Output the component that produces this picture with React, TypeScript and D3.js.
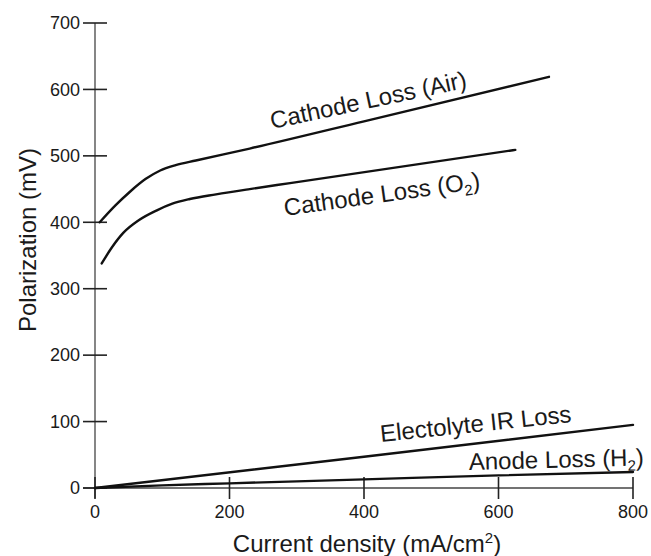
import React from "react";
import * as d3 from "d3";

const xTicks = [0, 200, 400, 600, 800];
const yTicks = [0, 100, 200, 300, 400, 500, 600, 700];

const airX = [7, 30, 52, 75, 97, 120, 150, 230, 400, 675];
const airY = [400, 425, 446, 465, 478, 486, 493, 511, 552, 619];

const o2X = [10, 25, 42, 65, 92, 115, 141, 180, 230, 290, 625];
const o2Y = [338, 362, 384, 403, 418, 428, 435, 442, 450, 459, 509];

const irX = [0, 400, 800];
const irY = [0, 47, 95];

const anodeX = [0, 100, 200, 400, 600, 800];
const anodeY = [0, 4, 7, 13, 19, 24];

const W = 651;
const H = 556;
const FONT = "'Liberation Sans', Arial, Helvetica, sans-serif";
const TXT = "#1a1a1a";

export default function App() {
  const x = d3.scaleLinear().domain([0, 800]).range([95, 633]);
  const y = d3.scaleLinear().domain([0, 700]).range([488, 23]);

  const line = d3
    .line<[number, number]>()
    .x((d) => x(d[0]))
    .y((d) => y(d[1]))
    .curve(d3.curveMonotoneX);

  const zip = (a: number[], b: number[]) => a.map((v, i) => [v, b[i]] as [number, number]);

  const series = [zip(airX, airY), zip(o2X, o2Y), zip(irX, irY), zip(anodeX, anodeY)];

  const x0 = x(0);
  const y0 = y(0);

  return (
    <div style={{ position: "fixed", left: 0, top: 0 }}>
      <svg width={W} height={H} style={{ display: "block", background: "#fff" }} fontFamily={FONT}>
        {/* axes */}
        <line x1={x0} x2={x0} y1={y(700)} y2={y0 + 10} stroke="#444" strokeWidth={1.3} />
        <line x1={x0 - 12} x2={x(800)} y1={y0} y2={y0} stroke="#444" strokeWidth={1.3} />
        {yTicks.map((t) => (
          <g key={"y" + t}>
            <line x1={x0 - 12} x2={x0 + 12} y1={y(t)} y2={y(t)} stroke="#222" strokeWidth={1.6} />
            <text x={80} y={y(t)} dy="0.35em" textAnchor="end" fontSize={18} fill={TXT}>
              {t}
            </text>
          </g>
        ))}
        {xTicks.map((t) => (
          <g key={"x" + t}>
            <line x1={x(t)} x2={x(t)} y1={y0 - 11} y2={y0 + 11} stroke="#222" strokeWidth={1.6} />
            <text x={x(t)} y={518} textAnchor="middle" fontSize={18} fill={TXT}>
              {t}
            </text>
          </g>
        ))}

        {/* curves */}
        {series.map((s, i) => (
          <path key={i} d={line(s) || ""} fill="none" stroke="#111" strokeWidth={2.4} strokeLinecap="round" />
        ))}

        {/* axis titles */}
        <text x={367} y={552} textAnchor="middle" fontSize={24} fill={TXT}>
          Current density (mA/cm
          <tspan fontSize={15} dy={-9}>2</tspan>
          <tspan dy={9}>)</tspan>
        </text>
        <text transform="translate(36,240) rotate(-90)" textAnchor="middle" fontSize={24} fill={TXT}>
          Polarization (mV)
        </text>

        {/* curve labels */}
        <text transform="translate(272,129) rotate(-12)" fontSize={24} fill={TXT}>
          Cathode Loss (Air)
        </text>
        <text transform="translate(285,216) rotate(-8)" fontSize={24} fill={TXT}>
          Cathode Loss (O
          <tspan fontSize={15} dy={5}>2</tspan>
          <tspan dy={-5}>)</tspan>
        </text>
        <text transform="translate(381,442) rotate(-6)" fontSize={24} fill={TXT}>
          Electolyte IR Loss
        </text>
        <text transform="translate(469,470) rotate(-1.5)" fontSize={24} fill={TXT}>
          Anode Loss (H
          <tspan fontSize={15} dy={5}>2</tspan>
          <tspan dy={-5}>)</tspan>
        </text>
      </svg>
    </div>
  );
}
